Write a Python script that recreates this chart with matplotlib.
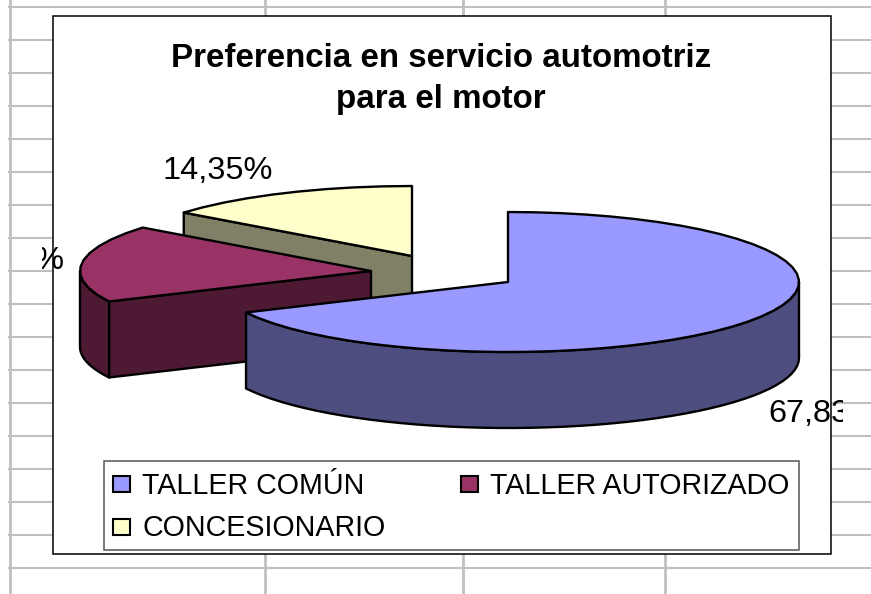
import numpy as np
import matplotlib
matplotlib.use('Agg')
import matplotlib.pyplot as plt
from matplotlib.patches import Polygon, Rectangle

plt.rcParams['font.family'] = ['Liberation Sans', 'DejaVu Sans']

# --- Data ---
categories = ['TALLER COMÚN', 'TALLER AUTORIZADO', 'CONCESIONARIO']
values = [67.83, 17.82, 14.35]
title = 'Preferencia en servicio automotriz\npara el motor'

# --- Styles ---
top_colors = ['#9999FF', '#993366', '#FFFFCC']
wall_colors = ['#4D4D80', '#4D1933', '#808066']
grid_color = '#C0C0C0'

# Pie geometry, in image pixels
centers = [(508, 282), (371, 271), (412, 256)]
rx, ry = 291, 70
depth = 76

fig = plt.figure(figsize=(8.71, 5.94), dpi=100)
ax = fig.add_axes([0, 0, 1, 1])
ax.set_xlim(0, 871)
ax.set_ylim(594, 0)
ax.axis('off')

# --- Spreadsheet grid behind the chart ---
for y in [6.5] + list(np.arange(40, 594, 33)):
    ax.plot([9, 871], [y, y], color=grid_color, lw=1.5, zorder=1)
for x in [9.5, 264.5, 463, 665]:
    ax.plot([x, x], [0, 594], color=grid_color, lw=2, zorder=1)

# --- Chart area ---
ax.add_patch(Rectangle((52.5, 15.5), 778, 538, fc='white', ec='black', lw=1.1, zorder=2))


def arc(center, t1, t2, n):
    # angles in degrees, clockwise from 12 o'clock
    t = np.radians(np.linspace(t1, t2, n))
    return np.column_stack([center[0] + rx * np.sin(t), center[1] - ry * np.cos(t)])


# --- Pie slices, back to front ---
shares = np.array(values) / sum(values) * 360
starts = np.concatenate([[0], np.cumsum(shares)[:-1]])
line = dict(ec='black', lw=1.7, joinstyle='round')
for i in [2, 1, 0]:
    c = centers[i]
    t1, t2 = starts[i], starts[i] + shares[i]
    n = max(int((t2 - t1) / 5), 8)

    # radial face at the start of the slice, seen only when it looks to the viewer
    if 180 < t1 < 360:
        edge = arc(c, t1, t1, 1)[0]
        face = [c, edge, (edge[0], edge[1] + depth), (c[0], c[1] + depth)]
        ax.add_patch(Polygon(face, fc=wall_colors[i], zorder=3 + (2 - i), **line))

    # outer wall, front half of the ellipse only
    w1, w2 = max(t1, 90), min(t2, 270)
    if w2 > w1:
        rim = arc(c, w1, w2, n)
        wall = np.vstack([rim, (rim + [0, depth])[::-1]])
        ax.add_patch(Polygon(wall, fc=wall_colors[i], zorder=3 + (2 - i), **line))

    top = np.vstack([[c], arc(c, t1, t2, n)])
    ax.add_patch(Polygon(top, fc=top_colors[i], zorder=3 + (2 - i), **line))

# --- Data labels, cut off by the text frame like in the original ---
label_pos = [(768, 414, 'left'), (64, 261, 'right'), (162, 171, 'left')]
frame = Rectangle((42, 0), 801, 594, transform=ax.transData)
for v, (x, y, ha) in zip(values, label_pos):
    txt = ax.text(x, y, f'{v:.2f}%'.replace('.', ','), fontsize=23.4, ha=ha, va='center',
                  color='black', zorder=8, clip_on=True)
    txt.set_clip_path(frame)

# --- Title ---
ax.text(441, 79, title, fontsize=23.9, fontweight='bold', ha='center', va='center',
        linespacing=1.38, color='black', zorder=8)

# --- Legend ---
ax.add_patch(Rectangle((103.5, 461), 695.5, 89, fc='white', ec='#555555', lw=1.1, zorder=6))
legend_pos = [(113, 484), (461, 484), (113, 527)]
for name, color, (x, y) in zip(categories, top_colors, legend_pos):
    ax.add_patch(Rectangle((x, y - 8), 17, 16, fc=color, ec='black', lw=1.5, zorder=7))
    ax.text(x + 29, y + 1.5, name, fontsize=20.6, ha='left', va='center', color='black', zorder=8)

fig.savefig('out.png', dpi=100)
